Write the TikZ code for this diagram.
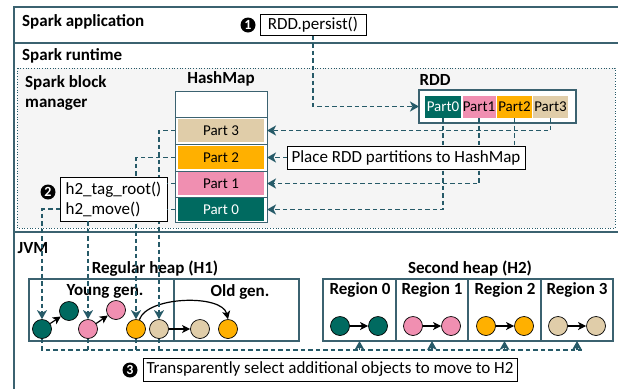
\documentclass[tikz,border=0pt]{standalone}
\usepackage{fontspec}
\setmainfont{Carlito}
\usetikzlibrary{arrows.meta}
\definecolor{framecol}{HTML}{3B6270}
\definecolor{linkcol}{HTML}{265A68}
\definecolor{tealcol}{HTML}{006A60}
\definecolor{pinkcol}{HTML}{F08FB1}
\definecolor{orangecol}{HTML}{FFB000}
\definecolor{tancol}{HTML}{E0CDA9}
\tikzset{
	head/.style={font=\fontsize{17}{20}\selectfont\bfseries, inner sep=0pt},
	plain/.style={font=\fontsize{17}{20}\selectfont, draw=black, fill=white, line width=0.8pt, inner sep=0pt, outer sep=0pt},
	part/.style={font=\fontsize{15}{17}\selectfont, inner sep=0pt, outer sep=0pt, minimum width=86pt, minimum height=23pt},
	rddpart/.style={font=\fontsize{15}{16}\selectfont, inner sep=0pt, outer sep=0pt, minimum height=22pt},
	obj/.style={circle, draw=black, line width=0.7pt, minimum size=19pt, inner sep=0pt},
	numb/.style={circle, fill=black, text=white, minimum size=15pt, inner sep=0pt, font=\fontsize{14}{16}\selectfont\bfseries},
	frame/.style={draw=framecol, line width=1.3pt},
	framebox/.style={frame, inner sep=0pt, outer sep=0pt},
	link/.style={draw=linkcol, line width=1.2pt, dash pattern=on 4.5pt off 3pt},
	linkarr/.style={link, -{Stealth[length=9pt,width=10pt,inset=2.5pt]}},
	objarr/.style={draw=black, line width=1.2pt, -{Stealth[length=8pt,width=8pt,inset=2pt]}}
}
\begin{document}
\begin{tikzpicture}[x=1pt, y=-1pt]
	\useasboundingbox (0, 0) rectangle (618, 389);
	
	% frames
	\draw[frame] (618, 7) -- (14, 7) -- (14, 389);
	\draw[frame] (14, 43) -- (618, 43);
	\draw[frame] (14, 232) -- (618, 232);
	\draw[draw=linkcol, fill=black!4, dotted, line width=0.7pt] (17, 68) rectangle (615, 228);
	
	\node[head, anchor=west] (app) at (22, 22) {Spark application};
	\node[head, anchor=west] (runtime) at (22, 56) {Spark runtime};
	\node[head, anchor=west, align=left] (manager) at (25, 93) {Spark block\\manager};
	\node[head] (jvm) at (33, 248) {JVM};
	
	% hashmap
	\node[head] (hashlabel) at (221, 79) {HashMap};
	\node[framebox, line width=1pt, fill=white, minimum width=92pt, minimum height=131pt] (hashbox) at (221, 156.5) {};
	\draw[frame, line width=1pt] (175, 117) -- (267, 117);
	\draw[frame, line width=1pt] (175, 144) -- (267, 144);
	\draw[frame, line width=1pt] (175, 171) -- (267, 171);
	\draw[frame, line width=1pt] (175, 197) -- (267, 197);
	\node[part, fill=tancol] (hash3) at (221, 130.5) {Part 3};
	\node[part, fill=orangecol] (hash2) at (221, 157.5) {Part 2};
	\node[part, fill=pinkcol] (hash1) at (221, 183.5) {Part 1};
	\node[part, fill=tealcol, text=white] (hash0) at (221, 209.5) {Part 0};
	
	% rdd
	\node[head] (rddlabel) at (435, 80) {RDD};
	\node[framebox, fill=white, minimum width=157pt, minimum height=33pt] (rddbox) at (497.5, 106.5) {};
	\node[rddpart, fill=tealcol, text=white, minimum width=36pt] (rdd0) at (443, 107) {Part0};
	\node[rddpart, fill=pinkcol, minimum width=33pt] (rdd1) at (479, 107) {Part1};
	\node[rddpart, fill=orangecol, minimum width=35pt] (rdd2) at (514.5, 107) {Part2};
	\node[rddpart, fill=tancol, minimum width=35pt] (rdd3) at (550.5, 107) {Part3};
	
	% application
	\node[plain, minimum width=106pt, minimum height=21pt] (persist) at (313, 25) {RDD.persist()};
	\node[numb] (one) at (248, 25) {1};
	\draw[linkarr] (persist.south) |- (rddbox.west);
	
	% heaps
	\node[head] (h1label) at (155, 269) {Regular heap (H1)};
	\node[head] (h2label) at (470, 269) {Second heap (H2)};
	\node[framebox, minimum width=145pt, minimum height=62pt] (youngbox) at (101.5, 310) {};
	\node[framebox, minimum width=125pt, minimum height=62pt] (oldbox) at (236.5, 310) {};
	\node[framebox, minimum width=73pt, minimum height=62pt] (box0) at (359.5, 310) {};
	\node[framebox, minimum width=72pt, minimum height=62pt] (box1) at (432, 310) {};
	\node[framebox, minimum width=73pt, minimum height=62pt] (box2) at (504.5, 310) {};
	\node[framebox, minimum width=72pt, minimum height=62pt] (box3) at (577, 310) {};
	\node[head] (young) at (105, 291) {Young gen.};
	\node[head] (old) at (240, 292) {Old gen.};
	\node[head] (reg0) at (360, 290) {Region 0};
	\node[head] (reg1) at (432, 290) {Region 1};
	\node[head] (reg2) at (505, 290) {Region 2};
	\node[head] (reg3) at (577, 290) {Region 3};
	
	\node[obj, fill=tealcol] (y0) at (42, 329) {};
	\node[obj, fill=tealcol] (y1) at (69, 311) {};
	\node[obj, fill=pinkcol] (y2) at (88, 329) {};
	\node[obj, fill=pinkcol] (y3) at (116, 310) {};
	\node[obj, fill=orangecol] (y4) at (136, 329) {};
	\node[obj, fill=tancol] (y5) at (159, 329) {};
	\node[obj, fill=tancol] (o0) at (200, 329) {};
	\node[obj, fill=orangecol] (o1) at (228, 329) {};
	
	\node[obj, fill=tealcol] (r0a) at (340, 326) {};
	\node[obj, fill=tealcol] (r0b) at (378, 326) {};
	\node[obj, fill=pinkcol] (r1a) at (413, 326) {};
	\node[obj, fill=pinkcol] (r1b) at (451, 326) {};
	\node[obj, fill=orangecol] (r2a) at (486, 326) {};
	\node[obj, fill=orangecol] (r2b) at (524, 326) {};
	\node[obj, fill=tancol] (r3a) at (558, 326) {};
	\node[obj, fill=tancol] (r3b) at (596, 326) {};
	
	\draw[objarr] (y0) -- (y1);
	\draw[objarr] (y2) -- (y3);
	\draw[objarr] (y5) -- (o0);
	\draw[objarr] (y4.70) .. controls (147, 296) and (222, 294) .. (o1.north);
	\draw[objarr] (r0a) -- (r0b);
	\draw[objarr] (r1a) -- (r1b);
	\draw[objarr] (r2a) -- (r2b);
	\draw[objarr] (r3a) -- (r3b);
	
	% rdd to hashmap
	\draw[linkarr] (rdd3.south) |- (hash3 -| hashbox.east);
	\draw[linkarr] (rdd1.south) |- (hash1 -| hashbox.east);
	\draw[linkarr] (rdd0.south) |- (hash0 -| hashbox.east);
	
	% hashmap to young gen
	\draw[linkarr] (hash3 -| hashbox.west) -| (y5.north);
	\draw[linkarr] (hash2 -| hashbox.west) -| (y4.north);
	
	\node[plain, minimum width=238pt, minimum height=23pt] (place) at (406, 157.5) {Place RDD partitions to HashMap};
	\draw[link] (rdd2.south) -- (rdd2 |- place.north);
	\draw[linkarr] (place.west) -- (hash2 -| hashbox.east);
	
	\node[plain, align=left, minimum width=107pt, minimum height=44pt] (h2box) at (113.5, 199) {h2\_tag\_root()\\h2\_move()};
	\node[numb] (two) at (48, 192) {2};
	\draw[link] (hash1 -| hashbox.west) -- (hash1 -| h2box.east);
	\draw[link] (hash0 -| hashbox.west) -- (hash0 -| h2box.east);
	\draw[linkarr] ([yshift=-10pt]h2box.west) -| (y0.north);
	\draw[linkarr] (h2box.south -| y2) -- (y2.north);
	
	% bottom line
	\coordinate (busend) at (582, 350);
	\draw[link] (y0.south) |- (busend);
	\draw[link] (y2.south) -- (y2 |- busend);
	\draw[link] (y4.south) -- (y4 |- busend);
	\draw[link] (y5.south) -- (y5 |- busend);
	\draw[linkarr] (box0.south |- busend) -- (box0.south);
	\draw[linkarr] (box1.south |- busend) -- (box1.south);
	\draw[linkarr] (box2.south |- busend) -- (box2.south);
	\draw[linkarr] (box3.south |- busend) -- (box3.south);
	
	\node[plain, minimum width=374pt, minimum height=23pt] (select) at (330, 369.5) {Transparently select additional objects to move to H2};
	\node[numb] (three) at (130, 370) {3};
\end{tikzpicture}
\end{document}
